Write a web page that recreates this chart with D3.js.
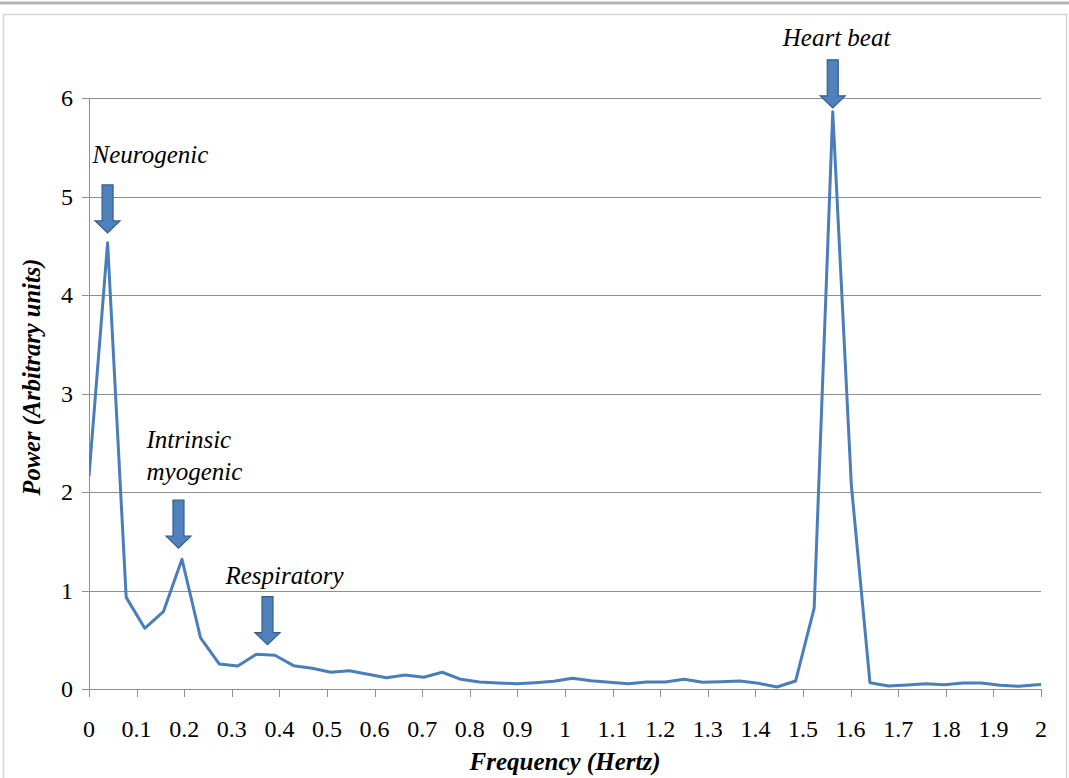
<!DOCTYPE html>
<html>
<head>
<meta charset="utf-8">
<script src="https://cdn.jsdelivr.net/npm/d3@7"></script>
<style>
  html, body { margin: 0; padding: 0; background: #fff; }
  svg { display: block; }
</style>
</head>
<body>
<svg id="chart" width="1069" height="778"></svg>
<script>
// Spectrum bins: 10 Hz sampling, 256-point FFT -> 0.0390625 Hz per bin
const binWidth = 0.0390625;
const power = [
  2.16, 4.53, 0.93, 0.616, 0.785, 1.317, 0.52, 0.254, 0.233, 0.352,
  0.342, 0.237, 0.21, 0.17, 0.186, 0.149, 0.115, 0.142, 0.119, 0.17,
  0.098, 0.071, 0.061, 0.054, 0.064, 0.078, 0.11, 0.083, 0.068, 0.054,
  0.07, 0.071, 0.098, 0.068, 0.074, 0.081, 0.058, 0.02, 0.081, 0.82,
  5.86, 2.07, 0.064, 0.03, 0.04, 0.054, 0.044, 0.06, 0.06, 0.037,
  0.027, 0.044, 0.05
];
const xTicks = ["0","0.1","0.2","0.3","0.4","0.5","0.6","0.7","0.8","0.9","1",
                "1.1","1.2","1.3","1.4","1.5","1.6","1.7","1.8","1.9","2"];
const yTicks = [0, 1, 2, 3, 4, 5, 6];

// Annotated peaks: label lines, arrow position (Hz) and arrow tip (power)
const annoLabels = [["Neurogenic"], ["Intrinsic", "myogenic"], ["Respiratory"], ["Heart beat"]];
const annoFreq = [0.039, 0.188, 0.375, 1.5625];
const annoTip = [4.63, 1.43, 0.45, 5.9];

const SERIF = "'Liberation Serif', 'Times New Roman', Tinos, serif";

const svg = d3.select("#chart").attr("font-family", SERIF);
const W = 1069, H = 778;
const plot = { left: 89, right: 1041, top: 98, bottom: 689 };

// page frame
svg.append("rect").attr("x", 0).attr("y", 1.5).attr("width", W).attr("height", 3).attr("fill", "#b4b4b4");
svg.append("rect").attr("x", 3.5).attr("y", 14.5).attr("width", 1063).attr("height", 770)
  .attr("fill", "none").attr("stroke", "#d4d4d4").attr("stroke-width", 1.5);

const x = d3.scaleLinear().domain([0, 2]).range([plot.left, plot.right]);
const y = d3.scaleLinear().domain([0, 6]).range([plot.bottom, plot.top]);

// horizontal gridlines (with left tick stubs)
svg.append("g").selectAll("line").data(yTicks).join("line")
  .attr("x1", plot.left - 7).attr("x2", plot.right)
  .attr("y1", d => Math.round(y(d)) + 0.5).attr("y2", d => Math.round(y(d)) + 0.5)
  .attr("stroke", "#8f8f8f").attr("stroke-width", 1);

// vertical axis line
svg.append("line").attr("x1", plot.left + 0.5).attr("x2", plot.left + 0.5)
  .attr("y1", plot.top).attr("y2", plot.bottom).attr("stroke", "#8f8f8f");

// x ticks
const xt = xTicks.map(Number);
svg.append("g").selectAll("line").data(xt).join("line")
  .attr("x1", d => Math.round(x(d)) + 0.5).attr("x2", d => Math.round(x(d)) + 0.5)
  .attr("y1", plot.bottom).attr("y2", plot.bottom + 8)
  .attr("stroke", "#8f8f8f");

// x tick labels
svg.append("g").selectAll("text").data(xTicks).join("text")
  .attr("font-family", SERIF)
  .attr("x", d => x(+d)).attr("y", 737)
  .attr("text-anchor", "middle").attr("font-size", 24)
  .text(d => d);

// y tick labels
svg.append("g").selectAll("text").data(yTicks).join("text")
  .attr("font-family", SERIF)
  .attr("x", 73).attr("y", d => y(d) + 8)
  .attr("text-anchor", "end").attr("font-size", 24)
  .text(d => d);

// axis titles
svg.append("text").attr("x", 565).attr("y", 770).attr("text-anchor", "middle")
  .attr("font-family", SERIF)
  .attr("font-size", 25).attr("font-weight", "bold").attr("font-style", "italic")
  .text("Frequency (Hertz)");
svg.append("text").attr("transform", "translate(40,377) rotate(-90)").attr("text-anchor", "middle")
  .attr("font-family", SERIF)
  .attr("font-size", 24.5).attr("font-weight", "bold").attr("font-style", "italic")
  .text("Power (Arbitrary units)");

// spectrum line, clipped to the plot area
svg.append("clipPath").attr("id", "plotClip").append("rect")
  .attr("x", plot.left).attr("y", plot.top - 20)
  .attr("width", plot.right - plot.left).attr("height", plot.bottom - plot.top + 30);

const line = d3.line().x((d, i) => x(i * binWidth)).y(d => y(d));
svg.append("path").datum(power)
  .attr("clip-path", "url(#plotClip)")
  .attr("d", line)
  .attr("fill", "none").attr("stroke", "#4a7ebb").attr("stroke-width", 3)
  .attr("stroke-linejoin", "round");

// annotation arrows + labels
const shaftW = 11, headW = 25, headL = 12, arrowLen = 48;
const labelOffsets = [[-15, -70], [-32, -100], [-42, -61], [-50, -62]];
annoLabels.forEach((lines, k) => {
  const cx = x(annoFreq[k]);
  const tip = y(annoTip[k]);
  const top = tip - arrowLen, neck = tip - headL;
  const pts = [
    [cx - shaftW / 2, top], [cx + shaftW / 2, top], [cx + shaftW / 2, neck],
    [cx + headW / 2, neck], [cx, tip], [cx - headW / 2, neck], [cx - shaftW / 2, neck]
  ];
  svg.append("path").attr("d", "M" + pts.map(p => p.join(",")).join("L") + "Z")
    .attr("fill", "#4f81bd").attr("stroke", "#385d8a").attr("stroke-width", 1.2);
  const [dx, dy] = labelOffsets[k];
  const t = svg.append("text").attr("font-family", SERIF)
    .attr("font-size", 25).attr("font-style", "italic");
  lines.forEach((s, j) => {
    t.append("tspan").attr("x", cx + dx).attr("y", tip + dy + j * 32).text(s);
  });
});
</script>
</body>
</html>
